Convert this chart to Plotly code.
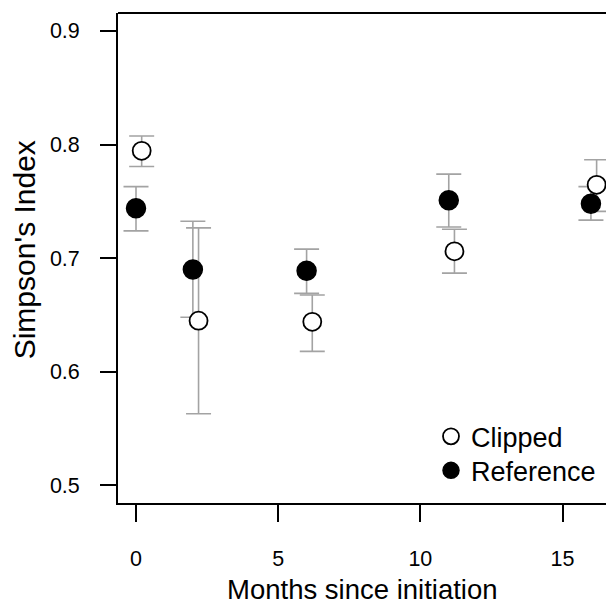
import plotly.graph_objects as go

# ---- data ----
months = [0, 2, 6, 11, 16]
clip_dodge = 0.2

ref_mean = [0.744, 0.690, 0.689, 0.751, 0.748]
ref_upper = [0.763, 0.7325, 0.708, 0.774, 0.763]
ref_lower = [0.724, 0.648, 0.669, 0.7275, 0.7335]

clip_mean = [0.7945, 0.645, 0.644, 0.706, 0.7646]
clip_upper = [0.8076, 0.7267, 0.6676, 0.7254, 0.7866]
clip_lower = [0.7807, 0.563, 0.618, 0.6868, 0.7412]

x_ticks = [0, 5, 10, 15]
y_ticks = [0.5, 0.6, 0.7, 0.8, 0.9]
y_ticklabels = ["0.5", "0.6", "0.7", "0.8", "0.9"]

FONT = "Liberation Sans, Arial, sans-serif"
ERR_COL = "#A3A3A3"

clip_x = [m + clip_dodge for m in months]

def err(mean, up, lo):
    return dict(type="data", symmetric=False,
                array=[u - m for u, m in zip(up, mean)],
                arrayminus=[m - l for m, l in zip(mean, lo)],
                color=ERR_COL, thickness=1.6, width=12.5)

fig = go.Figure()
# error bars first (beneath all markers)
fig.add_trace(go.Scatter(x=clip_x, y=clip_mean, mode="markers",
                         marker=dict(size=1, color="rgba(0,0,0,0)"),
                         error_y=err(clip_mean, clip_upper, clip_lower),
                         showlegend=False, hoverinfo="skip"))
fig.add_trace(go.Scatter(x=months, y=ref_mean, mode="markers",
                         marker=dict(size=1, color="rgba(0,0,0,0)"),
                         error_y=err(ref_mean, ref_upper, ref_lower),
                         showlegend=False, hoverinfo="skip"))
# markers
fig.add_trace(go.Scatter(x=months, y=ref_mean, mode="markers", name="Reference",
                         legend="legend2",
                         marker=dict(size=19, color="black", symbol="circle",
                                     line=dict(color="black", width=1.5))))
fig.add_trace(go.Scatter(x=clip_x, y=clip_mean, mode="markers", name="Clipped",
                         legend="legend",
                         marker=dict(size=18, color="white", symbol="circle",
                                     line=dict(color="black", width=1.8))))

W, H = 606, 608
L, R, T, B = 118, 0, 12.7, 105.3
pw = W - L - R
ph = H - T - B

def px_to_paper_x(px):
    return (px - L) / pw

def px_to_paper_y(py):
    return (H - B - py) / ph

LEG_FONT = dict(size=27, family=FONT, color="black")

fig.update_layout(
    width=W, height=H,
    margin=dict(l=L, r=R, t=T, b=B, pad=0),
    paper_bgcolor="white", plot_bgcolor="white",
    font=dict(family=FONT, color="black", size=21),
    showlegend=True,
    legend=dict(x=px_to_paper_x(431), y=px_to_paper_y(412),
                xanchor="left", yanchor="top", font=LEG_FONT,
                bgcolor="rgba(0,0,0,0)", borderwidth=0),
    legend2=dict(x=px_to_paper_x(431), y=px_to_paper_y(446),
                 xanchor="left", yanchor="top", font=LEG_FONT,
                 bgcolor="rgba(0,0,0,0)", borderwidth=0),
    xaxis=dict(range=[-0.633, 16.53], tickmode="array", tickvals=x_ticks,
               ticktext=[str(v) for v in x_ticks],
               showgrid=False, zeroline=False, showline=True,
               linecolor="black", linewidth=1.8,
               ticks="outside", ticklen=17, tickwidth=1.8, tickcolor="black",
               ticklabelstandoff=18,
               tickfont=dict(size=21.5, family=FONT, color="black")),
    yaxis=dict(range=[0.4845, 0.9158], tickmode="array", tickvals=y_ticks,
               ticktext=y_ticklabels,
               showgrid=False, zeroline=False, showline=True,
               linecolor="black", linewidth=1.8,
               ticks="outside", ticklen=16, tickwidth=1.8, tickcolor="black",
               ticklabelstandoff=16,
               tickfont=dict(size=21.5, family=FONT, color="black")),
    shapes=[dict(type="line", xref="paper", yref="paper", x0=0, x1=1, y0=1, y1=1,
                 line=dict(color="black", width=1.8))],
    annotations=[
        dict(text="Months since initiation", xref="paper", yref="paper",
             x=0.5, y=px_to_paper_y(607), xanchor="center", yanchor="bottom",
             showarrow=False, font=dict(size=27.5, family=FONT, color="black")),
        dict(text="Simpson's Index", xref="paper", yref="paper",
             x=px_to_paper_x(24), y=px_to_paper_y(250), xanchor="center", yanchor="middle",
             textangle=-90, showarrow=False,
             font=dict(size=30, family=FONT, color="black")),
    ],
)

fig.write_html("out.html")
